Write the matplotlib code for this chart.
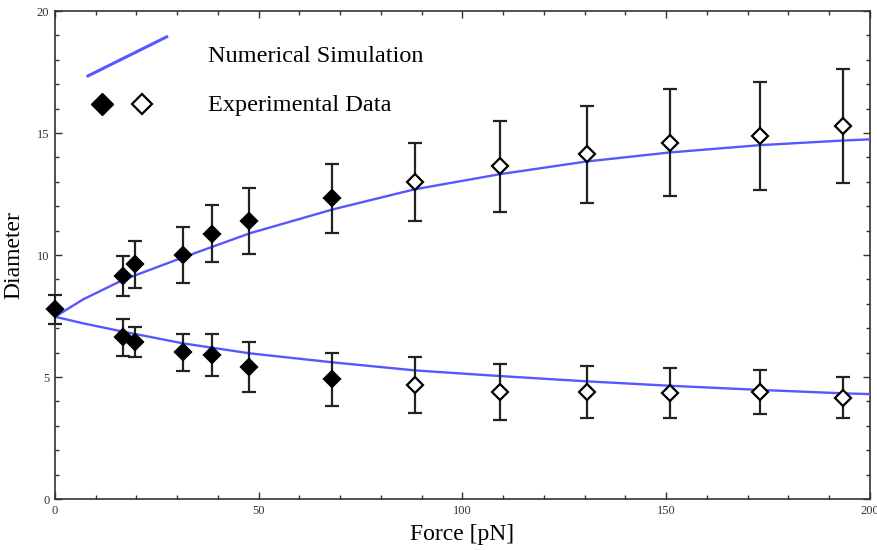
"""
Diameter vs applied force: numerical simulation against experimental data.
Filled diamonds = low-force measurements, open diamonds = high-force ones.
"""
import matplotlib
matplotlib.use("Agg")
import matplotlib.pyplot as plt  # noqa: E402
from matplotlib.ticker import MultipleLocator  # noqa: E402

# --- data ------------------------------------------------------------------
force_filled = [0, 16.6, 19.6, 31.3, 38.6, 47.6, 68.1]
upper_filled = [7.77, 9.14, 9.62, 10.0, 10.87, 11.38, 12.32]
upper_filled_err = [0.58, 0.82, 0.97, 1.13, 1.17, 1.35, 1.43]

force_filled_low = [16.6, 19.6, 31.3, 38.6, 47.6, 68.1]
lower_filled = [6.62, 6.43, 6.01, 5.90, 5.41, 4.90]
lower_filled_err = [0.77, 0.63, 0.75, 0.86, 1.01, 1.08]

force_open = [88.3, 109.1, 130.5, 151.0, 172.9, 193.3]
upper_open = [13.0, 13.63, 14.12, 14.6, 14.88, 15.29]
upper_open_err = [1.6, 1.87, 2.0, 2.2, 2.22, 2.35]
lower_open = [4.68, 4.37, 4.37, 4.35, 4.38, 4.15]
lower_open_err = [1.15, 1.15, 1.07, 1.02, 0.90, 0.85]

sim_force_upper = [0, 6.9, 16.7, 31.4, 47.8, 68.2, 88.2, 109.1, 130.3,
                   150.7, 172.8, 193.2, 200]
sim_upper = [7.47, 8.18, 8.98, 9.9, 10.89, 11.87, 12.69, 13.31, 13.83,
             14.2, 14.5, 14.69, 14.74]
sim_force_lower = [0, 6.9, 16.7, 31.4, 47.8, 68.2, 88.4, 109.1, 130.8,
                   151.1, 173.2, 193.6, 200]
sim_lower = [7.47, 7.2, 6.86, 6.38, 5.97, 5.6, 5.27, 5.04, 4.82,
             4.64, 4.47, 4.33, 4.30]

legend_labels = ["Numerical Simulation", "Experimental Data"]

# --- style ------------------------------------------------------------------
_C_SIM = "#5757ff"
_C_DATA = "black"
_SERIF = ["Liberation Serif", "DejaVu Serif"]

plt.rcParams["font.family"] = _SERIF


def _errorbars(ax, x, y, yerr, filled):
    ax.errorbar(x, y, yerr=yerr, fmt="D", ms=8.5, mew=1.6,
                mfc=_C_DATA if filled else "white", mec=_C_DATA,
                ecolor="#222222", elinewidth=1.6, capsize=5, capthick=1.6,
                zorder=4, clip_on=False)


fig = plt.figure(figsize=(8.77, 5.5), dpi=100)
ax = fig.add_axes([0.0627, 0.0927, 0.9293, 0.8873])

ax.plot(sim_force_upper, sim_upper, color=_C_SIM, lw=1.7, zorder=3)
ax.plot(sim_force_lower, sim_lower, color=_C_SIM, lw=1.7, zorder=3)

_errorbars(ax, force_filled, upper_filled, upper_filled_err, True)
_errorbars(ax, force_filled_low, lower_filled, lower_filled_err, True)
_errorbars(ax, force_open, upper_open, upper_open_err, False)
_errorbars(ax, force_open, lower_open, lower_open_err, False)

ax.set_xlim(0, 200)
ax.set_ylim(0, 20)
ax.xaxis.set_major_locator(MultipleLocator(50))
ax.xaxis.set_minor_locator(MultipleLocator(10))
ax.yaxis.set_major_locator(MultipleLocator(5))
ax.yaxis.set_minor_locator(MultipleLocator(1))
ax.tick_params(which="both", direction="in", top=True, right=True,
               colors="#333333", labelsize=9, width=1.0)
ax.tick_params(which="major", length=5, pad=4)
ax.tick_params(which="minor", length=3)
for s in ax.spines.values():
    s.set_color("#333333")
    s.set_linewidth(1.2)

ax.set_xlabel("Force [pN]", fontsize=17, labelpad=5)
ax.set_ylabel("Diameter", fontsize=17, labelpad=9)

# hand-drawn legend inside the axes (axes-fraction coordinates)
ax.plot([0.0405, 0.137], [0.867, 0.947], transform=ax.transAxes,
        color=_C_SIM, lw=2.2, clip_on=False)
ax.plot([0.0577], [0.809], "D", ms=11, mfc=_C_DATA, mec=_C_DATA,
        transform=ax.transAxes)
ax.plot([0.1067], [0.809], "D", ms=10, mfc="white", mec=_C_DATA, mew=1.6,
        transform=ax.transAxes)
ax.text(0.188, 0.906, legend_labels[0], transform=ax.transAxes,
        fontsize=17.5, va="center", ha="left")
ax.text(0.188, 0.807, legend_labels[1], transform=ax.transAxes,
        fontsize=17.5, va="center", ha="left")

fig.savefig("out.png", dpi=100)
